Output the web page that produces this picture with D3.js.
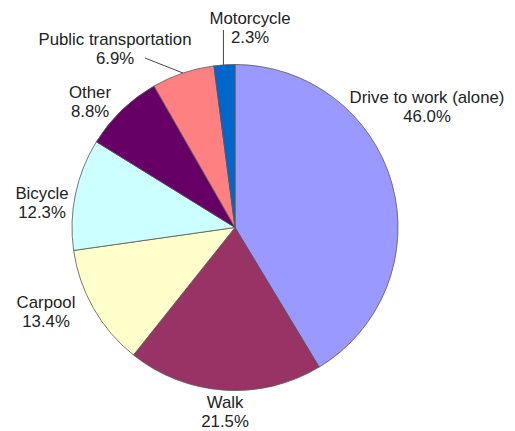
<!DOCTYPE html>
<html>
<head>
<meta charset="utf-8">
<script src="https://cdn.jsdelivr.net/npm/d3@7"></script>
<style>
  body { margin: 0; background: #fff; }
  text { font-family: "Liberation Sans", Arial, sans-serif; fill: #222; }
</style>
</head>
<body>
<div id="pie-chart"></div>
<script>
var categories = ["Drive to work (alone)", "Walk", "Carpool", "Bicycle", "Other", "Public transportation", "Motorcycle"];
var values = [46.0, 21.5, 13.4, 12.3, 8.8, 6.9, 2.3];
var colors = ["#9999ff", "#993366", "#ffffcc", "#ccffff", "#660066", "#ff8080", "#0066cc"];

// label anchor (centre of the two lines, first baseline) - layout only
var labelPos = [[427, 103], [225, 408], [46, 308], [42, 199], [90, 98], [115, 45], [250, 24]];

var width = 515, height = 431;
var cx = 235, cy = 227.5, radius = 163;

var svg = d3.select("#pie-chart").append("svg")
    .attr("width", width)
    .attr("height", height);

var g = svg.append("g")
    .attr("transform", "translate(" + cx + "," + cy + ")");

var pie = d3.pie().sort(null).value(function(d) { return d.value; });
var arc = d3.arc().innerRadius(0).outerRadius(radius);

var slices = categories.map(function(c, i) {
  return {name: c, value: values[i], color: colors[i], pos: labelPos[i]};
});

var arcsData = pie(slices);

g.selectAll(".slice")
    .data(arcsData)
  .enter().append("path")
    .attr("class", "slice")
    .attr("d", arc)
    .attr("fill", function(d) { return d.data.color; })
    .attr("stroke", "#555")
    .attr("stroke-width", 0.8);

// leader lines for the two small slices at the top
function edgePoint(d) {
  var a = (d.startAngle + d.endAngle) / 2;
  return [cx + Math.sin(a) * radius, cy - Math.cos(a) * radius];
}
var pt = edgePoint(arcsData[5]);
svg.append("line")
    .attr("x1", 145).attr("y1", 58)
    .attr("x2", pt[0]).attr("y2", pt[1])
    .attr("stroke", "#444").attr("stroke-width", 1);
var mt = edgePoint(arcsData[6]);
svg.append("line")
    .attr("x1", mt[0] - 1).attr("y1", 30)
    .attr("x2", mt[0] - 1).attr("y2", mt[1])
    .attr("stroke", "#444").attr("stroke-width", 1);

var labels = svg.selectAll(".lbl")
    .data(slices)
  .enter().append("text")
    .attr("class", "lbl")
    .attr("text-anchor", "middle")
    .attr("font-size", 16)
    .attr("transform", function(d) {
      return "translate(" + d.pos[0] + "," + d.pos[1] + ") scale(1.05,1)";
    });

labels.append("tspan")
    .attr("x", 0).attr("y", 0)
    .text(function(d) { return d.name; });
labels.append("tspan")
    .attr("x", 0).attr("y", 19.5)
    .text(function(d) { return d.value.toFixed(1) + "%"; });
</script>
</body>
</html>
